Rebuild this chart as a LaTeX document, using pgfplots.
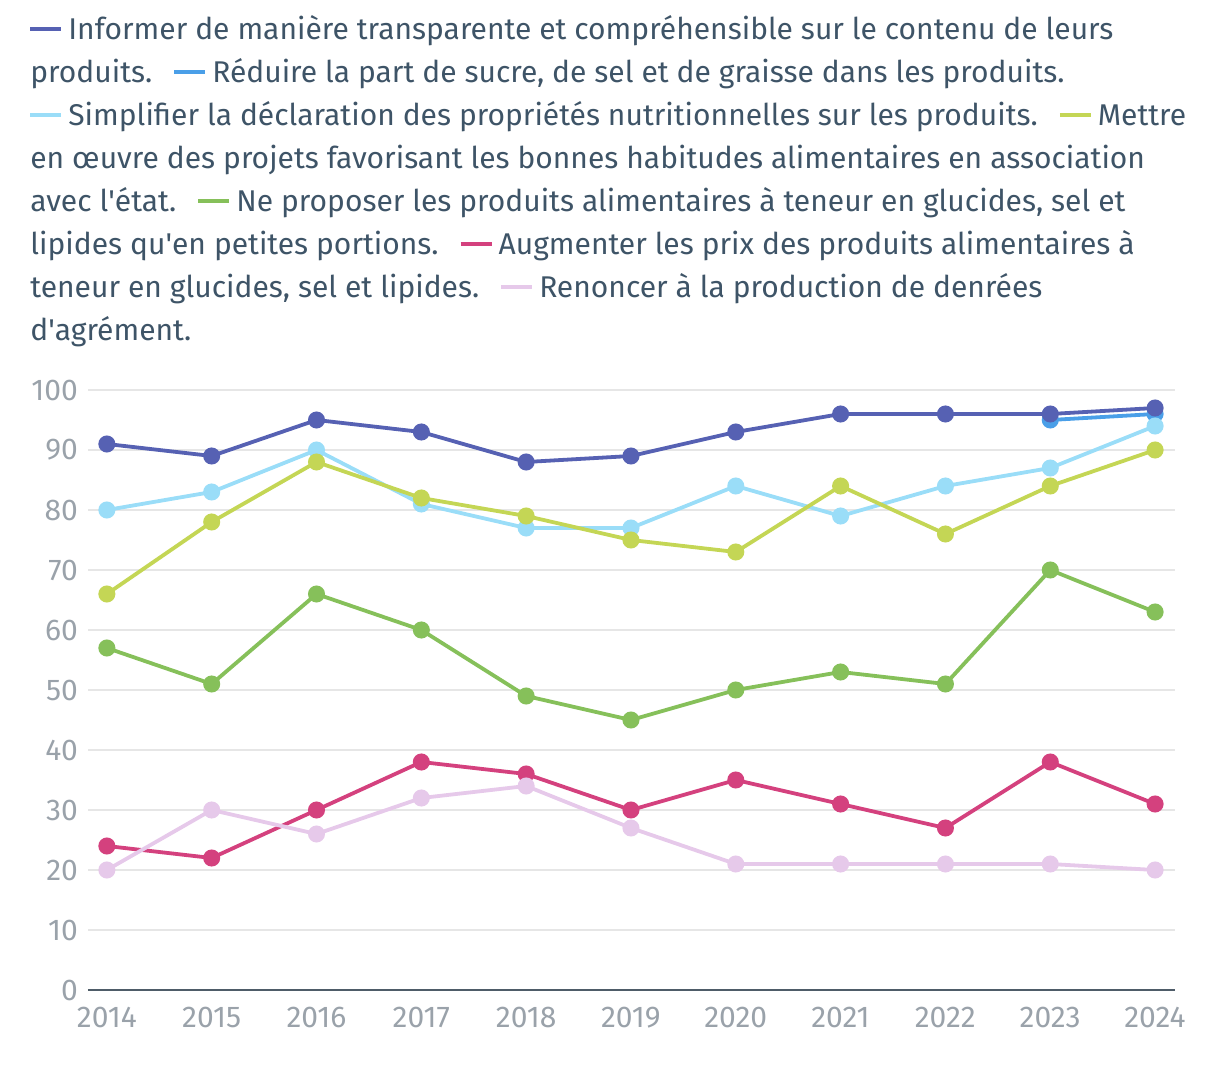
\documentclass[border=0pt]{standalone}
\usepackage{pgfplots}
\pgfplotsset{compat=1.18}
\usepackage{fontspec}
\setmainfont{Fira Sans}
\newfontfamily\straight{Fira Sans}[Ligatures=ResetAll]
\definecolor{cA}{HTML}{5661B3}
\definecolor{cB}{HTML}{4A9FE8}
\definecolor{cC}{HTML}{9ADDF8}
\definecolor{cD}{HTML}{C4D655}
\definecolor{cE}{HTML}{86C05A}
\definecolor{cF}{HTML}{D4417E}
\definecolor{cG}{HTML}{E6C9EA}
\definecolor{txt}{HTML}{3E5467}
\definecolor{tick}{HTML}{9AA2AA}
\definecolor{gridc}{HTML}{E6E6E6}
\definecolor{axc}{HTML}{4E5C68}
\newcommand{\sw}[1]{\textcolor{#1}{\rule[0.3em]{15.5bp}{2bp}}\hspace{3.5bp}}
\newcommand{\gap}{\hspace{11bp}}
\begin{document}
\begin{tikzpicture}
\path[use as bounding box] (-44bp,-49bp) rectangle (566bp,495bp);
\begin{axis}[
  at={(0,0)}, anchor=south west,
  scale only axis, width=543.5bp, height=300bp,
  xmin=2013.82, xmax=2024.19, ymin=0, ymax=100,
  axis x line*=bottom, axis y line*=left,
  y axis line style={draw=none},
  x axis line style={draw=axc, line width=0.8bp},
  major tick length=0,
  xtick={2014,...,2024}, ytick={0,10,...,100},
  ymajorgrids, grid style={draw=gridc, line width=0.9bp},
  tick label style={font=\fontsize{15bp}{17bp}\selectfont, text=tick},
  yticklabel style={xshift=-1.5bp},
  xticklabel style={yshift=-5bp},
  /pgf/number format/.cd, 1000 sep={}, assume math mode=true,
]
\pgfplotsset{every axis plot/.append style={line width=1.9bp, mark=*, mark size=3.3bp}}
\addplot[color=cB, mark options={fill=cB, draw=cB}] coordinates {(2023,95) (2024,96)};
\addplot[color=cA, mark options={fill=cA, draw=cA}] coordinates {(2014,91) (2015,89) (2016,95) (2017,93) (2018,88) (2019,89) (2020,93) (2021,96) (2022,96) (2023,96) (2024,97)};
\addplot[color=cC, mark options={fill=cC, draw=cC}] coordinates {(2014,80) (2015,83) (2016,90) (2017,81) (2018,77) (2019,77) (2020,84) (2021,79) (2022,84) (2023,87) (2024,94)};
\addplot[color=cD, mark options={fill=cD, draw=cD}] coordinates {(2014,66) (2015,78) (2016,88) (2017,82) (2018,79) (2019,75) (2020,73) (2021,84) (2022,76) (2023,84) (2024,90)};
\addplot[color=cE, mark options={fill=cE, draw=cE}] coordinates {(2014,57) (2015,51) (2016,66) (2017,60) (2018,49) (2019,45) (2020,50) (2021,53) (2022,51) (2023,70) (2024,63)};
\addplot[color=cF, mark options={fill=cF, draw=cF}] coordinates {(2014,24) (2015,22) (2016,30) (2017,38) (2018,36) (2019,30) (2020,35) (2021,31) (2022,27) (2023,38) (2024,31)};
\addplot[color=cG, mark options={fill=cG, draw=cG}] coordinates {(2014,20) (2015,30) (2016,26) (2017,32) (2018,34) (2019,27) (2020,21) (2021,21) (2022,21) (2023,21) (2024,20)};
\end{axis}
\begin{scope}[every node/.style={anchor=base west, inner sep=0pt, text=txt, font=\fontsize{15bp}{18bp}\selectfont}]
\node at (-29bp,475bp) {\sw{cA}Informer de manière transparente et compréhensible sur le contenu de leurs};
\node at (-29bp,453.5bp) {produits.\gap\sw{cB}Réduire la part de sucre, de sel et de graisse dans les produits.};
\node at (-29bp,432bp) {\sw{cC}Simplifier la déclaration des propriétés nutritionnelles sur les produits.\gap\sw{cD}Mettre};
\node at (-29bp,410.5bp) {en œuvre des projets favorisant les bonnes habitudes alimentaires en association};
\node at (-29bp,389bp) {avec l{\straight'}état.\gap\sw{cE}Ne proposer les produits alimentaires à teneur en glucides, sel et};
\node at (-29bp,367.5bp) {lipides qu{\straight'}en petites portions.\gap\sw{cF}Augmenter les prix des produits alimentaires à};
\node at (-29bp,346bp) {teneur en glucides, sel et lipides.\gap\sw{cG}Renoncer à la production de denrées};
\node at (-29bp,324.5bp) {d{\straight'}agrément.};
\end{scope}
\end{tikzpicture}
\end{document}
